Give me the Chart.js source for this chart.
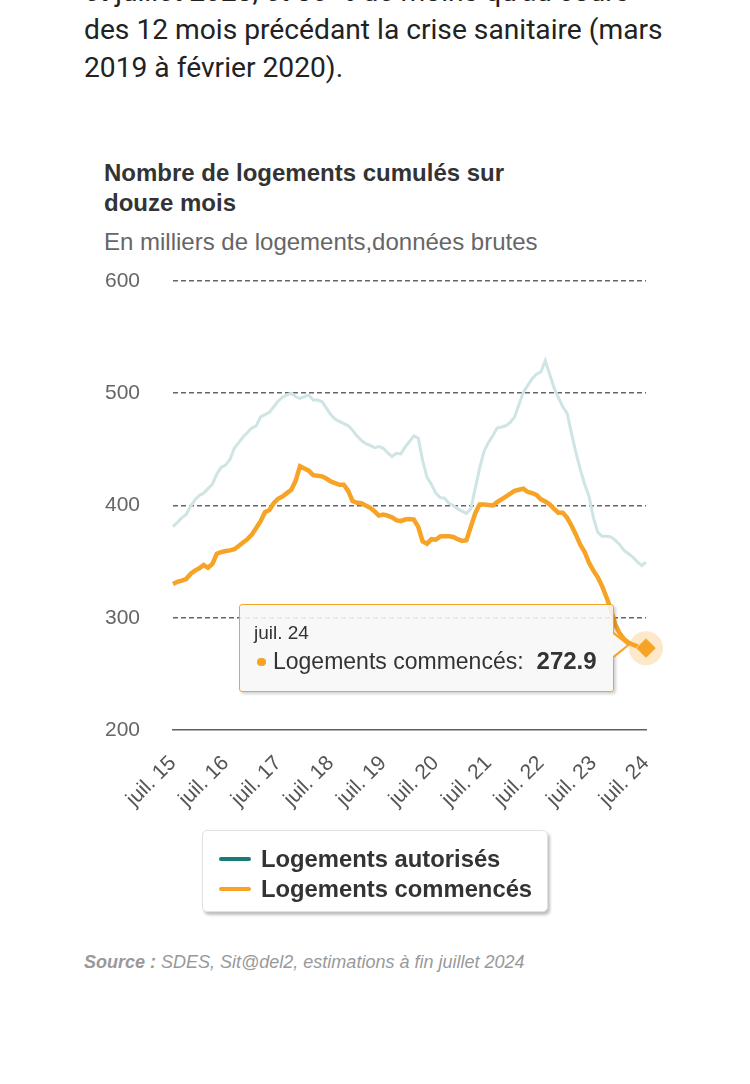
<!DOCTYPE html>
<html lang="fr">
<head>
<meta charset="utf-8">
<title>Logements autorisés et commencés</title>
<script src="https://cdn.jsdelivr.net/npm/chart.js@4.4.1/dist/chart.umd.min.js"></script>
<style>
  html, body { margin: 0; padding: 0; background: #fff; }
  body { width: 750px; height: 1084px; position: relative; overflow: hidden; font-family: "Liberation Sans", Arial, sans-serif; }
  #para { position: absolute; left: 84px; top: -27px; width: 640px; font-family: Roboto, sans-serif; font-size: 28.2px; line-height: 38px; color: #222; white-space: nowrap; }
  #title { position: absolute; left: 104px; top: 158px; font-size: 24px; line-height: 30px; font-weight: bold; color: #333; }
  #subtitle { position: absolute; left: 104px; top: 227px; font-size: 24px; line-height: 30px; color: #666; }
  #wrap { position: absolute; left: 0; top: 250px; width: 750px; height: 580px; }
  #legend { position: absolute; left: 202px; top: 830px; width: 346px; height: 82px; box-sizing: border-box; background: #fff; border: 1px solid #e2e2e2; border-radius: 5px; box-shadow: 2px 3px 3px rgba(0,0,0,0.25); padding: 13px 0 0 16px; }
  #legend .item { height: 30px; line-height: 30px; font-size: 23.8px; font-weight: bold; color: #333; white-space: nowrap; }
  #legend .sym { display: inline-block; width: 32px; height: 4px; border-radius: 2px; vertical-align: middle; margin-right: 10px; position: relative; top: -2px; }
  #source { position: absolute; left: 84px; top: 952px; font-size: 18px; font-style: italic; color: #999; }
  #tip { position: absolute; display: none; width: 375px; height: 88px; box-sizing: border-box; background: rgba(247,247,247,0.88); border: 1.5px solid #f6a326; border-radius: 3px; box-shadow: 2px 2px 3px rgba(0,0,0,0.18); padding: 16px 0 0 14px; color: #333; }
  #tip::before { content: ""; position: absolute; right: -16.5px; top: 27px; border-left: 16px solid #f6a326; border-top: 13px solid transparent; border-bottom: 13px solid transparent; }
  #tip::after { content: ""; position: absolute; right: -14px; top: 29px; border-left: 14.5px solid #f7f7f7; border-top: 11px solid transparent; border-bottom: 11px solid transparent; }
  #tip .tt { font-size: 19px; line-height: 24px; }
  #tip .tb { font-size: 23px; line-height: 30px; margin-top: 1px; white-space: nowrap; }
  #tip .val { margin-left: 13px; font-size: 24px; }
  #tip .dot { display: inline-block; width: 8.5px; height: 8.5px; border-radius: 50%; background: #f6a326; margin: 0 7.5px 0 3px; vertical-align: middle; position: relative; top: -1px; }
</style>
</head>
<body>
<div id="para">et juillet 2023, et 30 % de moins qu'au cours<br>des 12 mois précédant la crise sanitaire (mars<br>2019 à février 2020).</div>
<div id="title">Nombre de logements cumulés sur<br>douze mois</div>
<div id="subtitle">En milliers de logements,données brutes</div>
<div id="wrap"><canvas id="chart"></canvas></div>
<div id="tip"><div class="tt"></div><div class="tb"><span class="dot"></span><span class="name"></span><b class="val"></b></div></div>
<div id="legend"></div>
<div id="source"><b>Source :</b> SDES, Sit@del2, estimations à fin juillet 2024</div>

<script>
// monthly series, juillet 2015 -> juillet 2024 (milliers de logements, cumul 12 mois)
const monthNames = ['janv.', 'févr.', 'mars', 'avr.', 'mai', 'juin', 'juil.', 'août', 'sept.', 'oct.', 'nov.', 'déc.'];
const startYear = 2015;
const startMonth = 6; // juillet

const autorises = [
  381, 385, 389, 392, 399, 405, 409, 411, 415, 419, 428, 434,
  436, 441, 451, 456, 461, 465, 469, 471, 479, 481, 483, 488,
  493, 496.5, 498.5, 500, 497, 495.5, 497, 498.4, 494, 494, 492.6, 487,
  481, 477, 475, 473, 471, 467, 462, 458, 455, 453.5, 451.5, 452.5,
  451, 447, 443.6, 446.5, 446, 452, 457, 462, 460, 440, 425, 419,
  411, 407, 406.5, 402, 400, 397, 395, 393, 397, 415, 433, 448,
  456, 462, 469, 470, 471, 474, 479, 490, 501, 507, 513, 517,
  519, 529, 517, 505, 496, 488, 482, 464, 447, 432, 419, 408,
  389, 376, 372.6, 372.6, 372, 369, 365, 360, 357, 354, 350, 346.5,
  349.5
];

const commences = [
  330, 332, 333, 334.5, 339, 342, 344, 347, 344.5, 348, 357, 358.5,
  359.5, 360, 361, 364, 367, 370, 374, 380, 386, 394, 396, 402,
  406, 408, 411, 414, 422, 435, 433, 431, 427, 426.5, 426, 424,
  421.5, 420, 418.5, 418.5, 413, 404, 402.4, 402, 400, 398, 395, 391,
  392, 391, 389.5, 387, 386, 387.5, 388, 387.5, 381, 368, 366, 370,
  369.5, 372.5, 372.6, 372.6, 372, 370, 368.5, 369, 381, 393, 401, 401,
  400.5, 400, 403, 405.5, 408, 410.5, 413, 414, 415, 412, 411, 409.5,
  405.5, 403.5, 401, 397, 393.5, 393.5, 389, 382, 374, 365, 358.5, 349,
  342, 336, 328, 318, 307, 294, 286, 281, 278, 276, 274.5, 273.5,
  272.9
];

const yMin = 200;
const yMax = 600;
const yStep = 100;

const seriesNames = ['Logements autorisés', 'Logements commencés'];
const legendColors = ['#197b78', '#f6a326'];
const lineColors = ['#cfe4e4', '#f6a326'];

const labels = commences.map((_, i) => {
  const m = (startMonth + i) % 12;
  const y = startYear + Math.floor((startMonth + i) / 12);
  return monthNames[m] + ' ' + String(y).slice(2);
});

Chart.defaults.font.family = '"Liberation Sans", Arial, sans-serif';
Chart.defaults.animation = false;

function externalTooltip(context) {
  const { chart, tooltip } = context;
  const el = document.getElementById('tip');
  if (tooltip.opacity === 0 || !tooltip.dataPoints || !tooltip.dataPoints.length) {
    el.style.display = 'none';
    return;
  }
  const dp = tooltip.dataPoints[0];
  el.querySelector('.tt').textContent = tooltip.title[0];
  el.querySelector('.name').textContent = dp.dataset.label + ':';
  el.querySelector('.val').textContent = dp.formattedValue;
  el.style.display = 'block';
  const wrap = document.getElementById('wrap');
  el.style.left = (wrap.offsetLeft + tooltip.caretX - 32 - el.offsetWidth) + 'px';
  el.style.top = (wrap.offsetTop + tooltip.caretY - 44) + 'px';
}

// halo round the hovered point
const haloPlugin = {
  id: 'halo',
  beforeDatasetsDraw(chart) {
    const ctx = chart.ctx;
    chart.getActiveElements().forEach(a => {
      if (a.datasetIndex !== 1) return;
      ctx.save();
      ctx.beginPath();
      ctx.arc(a.element.x, a.element.y, 17, 0, Math.PI * 2);
      ctx.fillStyle = 'rgba(246,163,38,0.25)';
      ctx.fill();
      ctx.restore();
    });
  }
};

const ctx = document.getElementById('chart').getContext('2d');
const chart = new Chart(ctx, {
  type: 'line',
  data: {
    labels: labels,
    datasets: [{
      label: seriesNames[0],
      data: autorises,
      borderColor: lineColors[0],
      borderWidth: 3,
      pointRadius: 0,
      pointHoverRadius: 0,
      tension: 0
    }, {
      label: seriesNames[1],
      data: commences,
      borderColor: lineColors[1],
      backgroundColor: lineColors[1],
      borderWidth: 4.5,
      pointRadius: 0,
      pointStyle: 'rectRot',
      pointHoverRadius: 10,
      pointHoverBorderWidth: 1,
      pointHoverBorderColor: '#fbd9a3',
      pointHoverBackgroundColor: lineColors[1],
      clip: false,
      tension: 0
    }]
  },
  options: {
    responsive: true,
    maintainAspectRatio: false,
    locale: 'en-US',
    events: [],
    layout: { padding: { top: 31, right: 104, left: 0, bottom: 0 } },
    plugins: {
      legend: { display: false },
      tooltip: { enabled: false, external: externalTooltip }
    },
    scales: {
      x: {
        grid: { display: false, drawTicks: false },
        border: { display: true, color: '#606060', width: 1.5 },
        ticks: {
          autoSkip: false,
          maxRotation: 45,
          minRotation: 45,
          padding: 21,
          color: '#555',
          font: { size: 21 },
          callback: function (value) {
            const l = this.getLabelForValue(value);
            return l.startsWith('juil.') ? l : '';
          }
        },
        afterFit: s => { s.height = 100; }
      },
      y: {
        min: yMin,
        max: yMax,
        grid: {
          drawTicks: true,
          tickLength: 33,
          tickColor: 'rgba(0,0,0,0)',
          color: c => (c.tick && c.tick.value === yMin) ? 'rgba(0,0,0,0)' : '#666',
          lineWidth: 1.6
        },
        border: { display: false, dash: [5, 3] },
        ticks: { stepSize: yStep, padding: 0, color: '#666', font: { size: 21 } },
        afterFit: s => { s.width = 173; }
      }
    }
  },
  plugins: [haloPlugin]
});

const lastIndex = commences.length - 1;
chart.setActiveElements([{ datasetIndex: 1, index: lastIndex }]);
chart.tooltip.setActiveElements([{ datasetIndex: 1, index: lastIndex }], { x: 0, y: 0 });
chart.update();

// legend
const legend = document.getElementById('legend');
seriesNames.forEach((name, i) => {
  const item = document.createElement('div');
  item.className = 'item';
  const sym = document.createElement('span');
  sym.className = 'sym';
  sym.style.background = legendColors[i];
  item.appendChild(sym);
  item.appendChild(document.createTextNode(name));
  legend.appendChild(item);
});
</script>
</body>
</html>
